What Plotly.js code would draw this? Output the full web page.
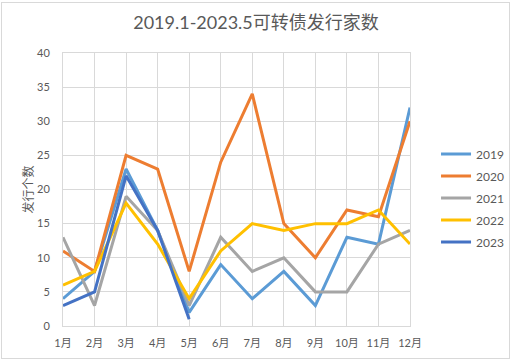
<!DOCTYPE html>
<html>
<head>
<meta charset="utf-8">
<script src="https://cdn.plot.ly/plotly-3.0.1.min.js"></script>
<style>
html,body{margin:0;padding:0;background:#fff;}
#wrap{position:relative;width:512px;height:362px;}
#chart{width:512px;height:362px;}
#frame{position:absolute;left:1px;top:2px;width:507px;height:355px;border:1px solid #D9D9D9;pointer-events:none;}
</style>
</head>
<body>
<div id="wrap"><div id="chart"></div><div id="frame"></div></div>
<script>
const months = ["1月","2月","3月","4月","5月","6月","7月","8月","9月","10月","11月","12月"];
const seriesNames = ["2019","2020","2021","2022","2023"];
const v2019 = [4, 8, 23, 14, 2, 9, 4, 8, 3, 13, 12, 32];
const v2020 = [11, 8, 25, 23, 8, 24, 34, 15, 10, 17, 16, 30];
const v2021 = [13, 3, 19, 14, 3, 13, 8, 10, 5, 5, 12, 14];
const v2022 = [6, 8, 18, 12, 4, 11, 15, 14, 15, 15, 17, 12];
const v2023 = [3, 5, 22, 14, 1];
const colors = ["#5B9BD5","#ED7D31","#A5A5A5","#FFC000","#4472C4"];
const allValues = [v2019, v2020, v2021, v2022, v2023];

const font = "Lato, 'Noto Sans CJK SC', sans-serif";
const traces = allValues.map((vals, i) => ({
  type: "scatter",
  mode: "lines",
  name: seriesNames[i],
  legendgroup: seriesNames[i],
  x: months.slice(0, vals.length),
  y: vals,
  line: {color: colors[i], width: 3}
}));

const layout = {
  width: 512, height: 362,
  margin: {l: 63, r: 102, t: 53, b: 36, autoexpand: false},
  paper_bgcolor: "#fff", plot_bgcolor: "#fff",
  font: {family: font, size: 11, color: "#595959"},
  title: {text: "2019.1-2023.5可转债发行家数", font: {family: font, size: 18, color: "#595959"},
          x: 0.5, xref: "container", xanchor: "center", y: 1 - 23/362, yref: "container", yanchor: "middle"},
  xaxis: {type: "category", categoryorder: "array", categoryarray: months, range: [0, 11],
          showgrid: true, gridcolor: "#D9D9D9", gridwidth: 1, showline: true, linecolor: "#D9D9D9", mirror: true,
          ticks: "", ticklabelstandoff: 7, tickfont: {size: 11, color: "#595959"}, fixedrange: true},
  yaxis: {range: [0, 40], dtick: 5, showgrid: true, gridcolor: "#D9D9D9", gridwidth: 1,
          showline: true, linecolor: "#D9D9D9", mirror: true, zeroline: false, ticks: "",
          ticklabelstandoff: 10,
          tickfont: {size: 11, color: "#595959"},
          title: {text: "发行个数", font: {size: 12, color: "#595959"}, standoff: 0}},
  showlegend: true,
  legend: {x: 1.075, xanchor: "left", y: 0.469, yanchor: "middle", traceorder: "grouped", tracegroupgap: 3,
           font: {size: 12, color: "#595959"}, bgcolor: "rgba(0,0,0,0)"}
};
Plotly.newPlot("chart", traces, layout, {displayModeBar: false, staticPlot: true});
</script>
</body>
</html>
